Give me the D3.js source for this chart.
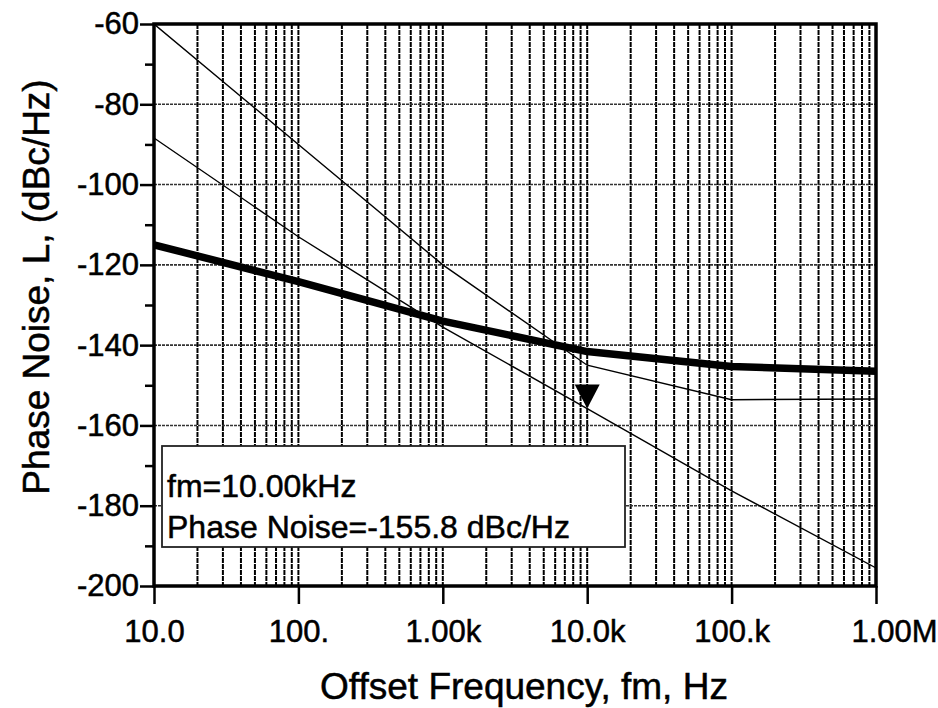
<!DOCTYPE html>
<html>
<head>
<meta charset="utf-8">
<script src="https://cdn.jsdelivr.net/npm/d3@7"></script>
<style>
  html, body { margin: 0; padding: 0; background: #fff; }
  svg { display: block; font-family: "Liberation Sans", Arial, Helvetica, sans-serif; }
  svg text { fill: #000; stroke: #000; stroke-width: 0.5px; }
</style>
</head>
<body>
<svg id="chart" width="938" height="708"></svg>
<script>
// Offset frequencies (Hz) at which the curves are evaluated
const freqs = [10, 100, 1e3, 1e4, 1e5, 1e6];
// Total phase noise (thick curve), dBc/Hz
const totalNoise = [-115.0, -124.2, -134.0, -141.6, -145.3, -146.5];
// Upper contribution (thin curve starting at -60)
const upperNoise = [-60.0, -90.0, -120.0, -145.0, -153.6, -153.4];
// Lower contribution (thin curve carrying the marker)
const lowerNoise = [-88.4, -113.0, -135.5, -155.8, -176.3, -195.5];

// Axis tick values and labels
const xTickValues = [10, 100, 1e3, 1e4, 1e5, 1e6];
const xTickLabels = ["10.0", "100.", "1.00k", "10.0k", "100.k", "1.00M"];
const yTickValues = [-60, -80, -100, -120, -140, -160, -180, -200];
const yMinorValues = [-70, -90, -110, -130, -150, -170, -190];

// Marker readout
const markerFreq = 1e4;
const markerValue = -155.8;
const markerLines = ["fm=10.00kHz", "Phase Noise=" + markerValue.toFixed(1) + " dBc/Hz"];

const svg = d3.select("#chart");
const plotLeft = 154, plotRight = 876, plotTop = 24, plotBottom = 586;

const x = d3.scaleLog().domain([10, 1e6]).range([plotLeft, plotRight]);
const y = d3.scaleLinear().domain([-200, -60]).range([plotBottom, plotTop]);

// Vertical grid: every 1..9 multiple in each decade
const vGrid = [];
for (let e = 1; e <= 5; e++) {
  for (let k = 1; k <= 9; k++) {
    const v = k * Math.pow(10, e);
    if (v > 10 && v < 1e6) vGrid.push(v);
  }
}
svg.append("g")
  .selectAll("line")
  .data(vGrid)
  .join("line")
  .attr("x1", d => x(d)).attr("x2", d => x(d))
  .attr("y1", plotTop).attr("y2", plotBottom)
  .attr("stroke", "#000")
  .attr("stroke-width", 2)
  .attr("stroke-dasharray", "5,1");

// Horizontal grid at the labelled levels
svg.append("g")
  .selectAll("line")
  .data(yTickValues.filter(v => v > -200 && v < -60))
  .join("line")
  .attr("x1", plotLeft).attr("x2", plotRight)
  .attr("y1", d => y(d)).attr("y2", d => y(d))
  .attr("stroke", "#333")
  .attr("stroke-width", 1.6)
  .attr("stroke-dasharray", "3,1");

const line = d3.line()
  .x((d, i) => x(freqs[i]))
  .y(d => y(d));

svg.append("clipPath").attr("id", "plotClip")
  .append("rect").attr("x", plotLeft).attr("y", plotTop)
  .attr("width", plotRight - plotLeft).attr("height", plotBottom - plotTop);
const curves = svg.append("g")
  .attr("clip-path", "url(#plotClip)");

curves.append("path")
  .datum(upperNoise)
  .attr("d", line)
  .attr("fill", "none").attr("stroke", "#000").attr("stroke-width", 1.4);

curves.append("path")
  .datum(lowerNoise)
  .attr("d", line)
  .attr("fill", "none").attr("stroke", "#000").attr("stroke-width", 1.4);

curves.append("path")
  .datum(totalNoise)
  .attr("d", line)
  .attr("fill", "none").attr("stroke", "#000").attr("stroke-width", 7.5)
  .attr("stroke-linejoin", "round");

// Marker triangle pointing at the readout point
const mx = x(markerFreq), my = y(markerValue);
svg.append("path")
  .attr("d", `M${mx - 12.5},${my - 24} L${mx + 12.5},${my - 24} L${mx},${my} Z`)
  .attr("fill", "#000");

// Readout box
const box = svg.append("g");
box.append("rect")
  .attr("x", 162).attr("y", 446)
  .attr("width", 463).attr("height", 101)
  .attr("fill", "#fff")
  .attr("stroke", "#222").attr("stroke-width", 1.8);
box.selectAll("text")
  .data(markerLines)
  .join("text")
  .attr("x", 167)
  .attr("y", (d, i) => 497 + i * 41)
  .attr("font-size", 32)
  .text(d => d);

// Frame
svg.append("rect")
  .attr("x", plotLeft).attr("y", plotTop)
  .attr("width", plotRight - plotLeft).attr("height", plotBottom - plotTop)
  .attr("fill", "none").attr("stroke", "#000").attr("stroke-width", 3.5);

// X axis
const xAxis = d3.axisBottom(x)
  .tickValues(xTickValues)
  .tickFormat((d, i) => xTickLabels[i])
  .tickSize(18)
  .tickPadding(16);
const gx = svg.append("g").attr("transform", `translate(0,${plotBottom})`).call(xAxis);
gx.select(".domain").remove();
gx.selectAll(".tick line").attr("stroke", "#000").attr("stroke-width", 2.5);
gx.selectAll(".tick text")
  .attr("font-size", 31)
  .attr("font-family", "Liberation Sans, Arial, sans-serif")
  .attr("dy", "0.71em")
  .attr("dx", (d, i) => i === xTickLabels.length - 1 ? 18 : 0);

// Y axis, major ticks with labels
const yAxis = d3.axisLeft(y)
  .tickValues(yTickValues)
  .tickFormat(d => String(d))
  .tickSize(14)
  .tickPadding(1);
const gy = svg.append("g").attr("transform", `translate(${plotLeft},0)`).call(yAxis);
gy.select(".domain").remove();
gy.selectAll(".tick line").attr("stroke", "#000").attr("stroke-width", 2.5);
gy.selectAll(".tick text")
  .attr("font-size", 31)
  .attr("font-family", "Liberation Sans, Arial, sans-serif");

// Y axis, minor ticks
const yMinor = d3.axisLeft(y)
  .tickValues(yMinorValues)
  .tickFormat("")
  .tickSize(9);
const gym = svg.append("g").attr("transform", `translate(${plotLeft},0)`).call(yMinor);
gym.select(".domain").remove();
gym.selectAll(".tick line").attr("stroke", "#000").attr("stroke-width", 2.5);

// Axis titles
svg.append("text")
  .attr("x", 524).attr("y", 699)
  .attr("text-anchor", "middle")
  .attr("font-size", 37)
  .text("Offset Frequency, fm, Hz");

svg.append("text")
  .attr("transform", "translate(49,287) rotate(-90)")
  .attr("text-anchor", "middle")
  .attr("font-size", 37)
  .text("Phase Noise, L, (dBc/Hz)");
</script>
</body>
</html>
